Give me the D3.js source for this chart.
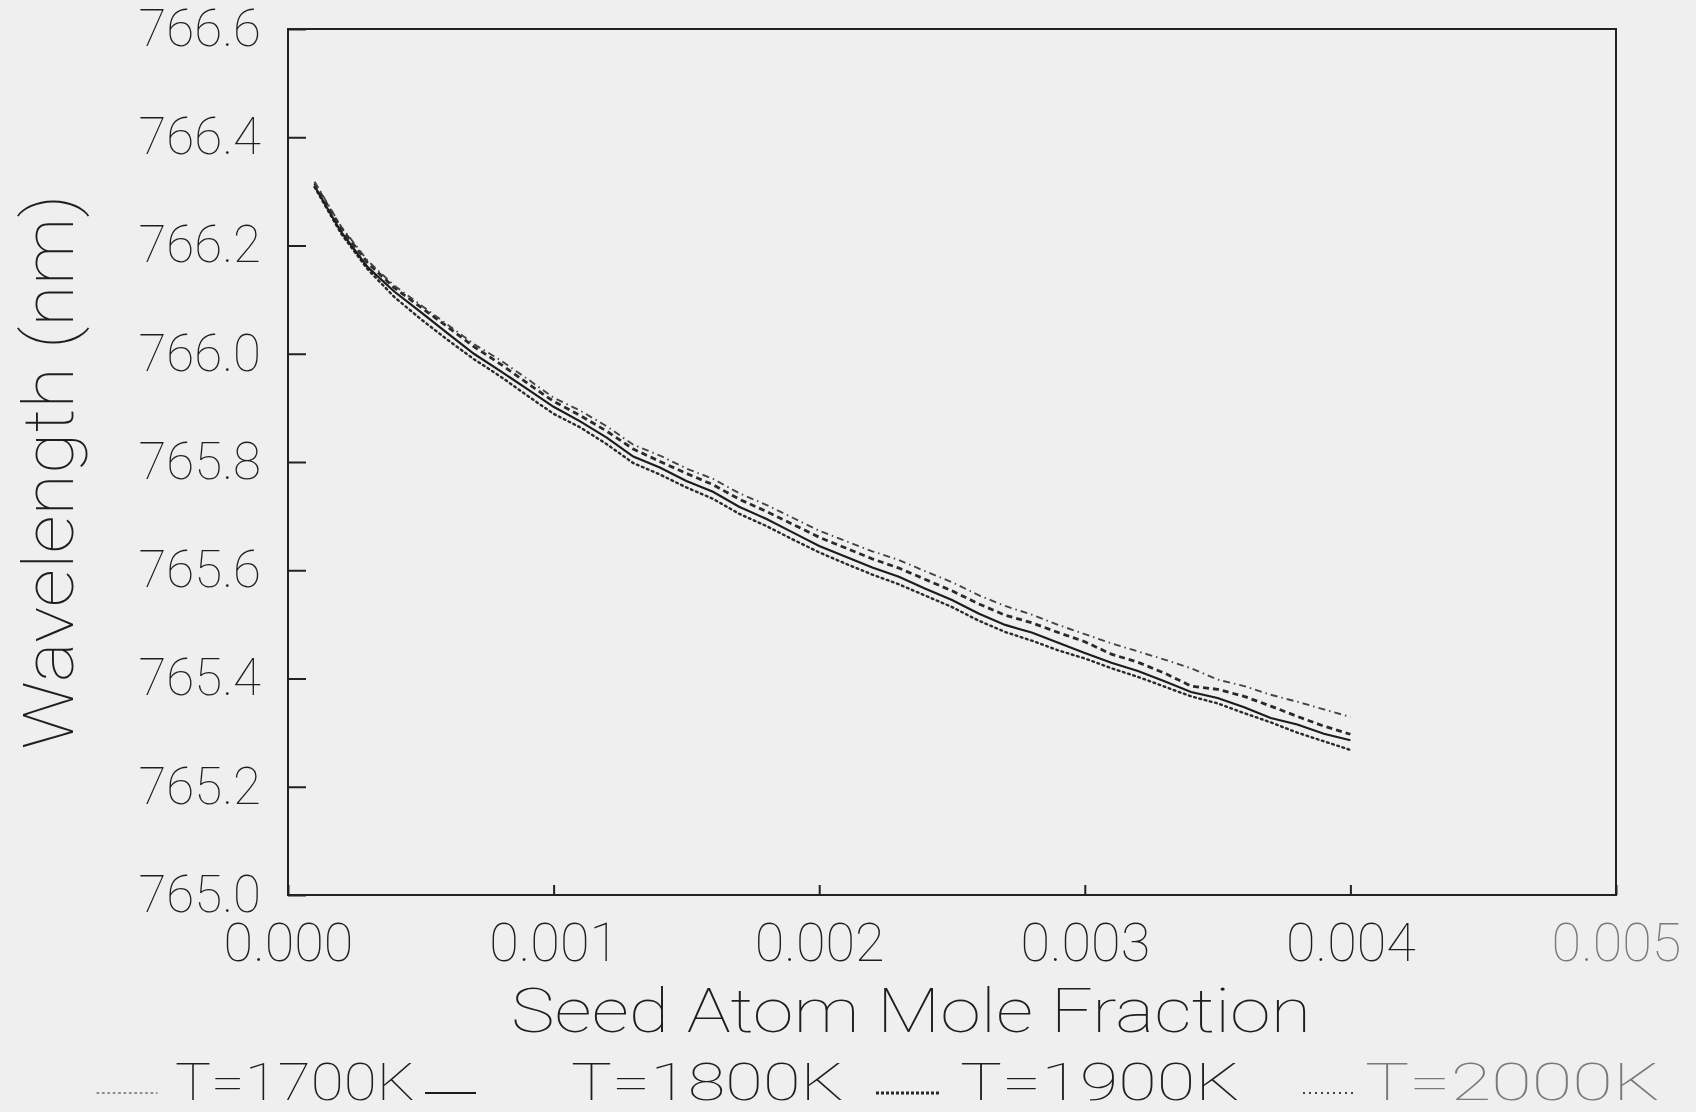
<!DOCTYPE html>
<html>
<head>
<meta charset="utf-8">
<script src="https://cdn.jsdelivr.net/npm/d3@7"></script>
<style>
    body { margin: 0; background: #efefef; }
    svg { display: block; }
    text { font-family: Roboto, Lato, "DejaVu Sans", sans-serif; font-weight: 100; fill: #1e1e1e; }
</style>
</head>
<body>
<div id="chart"></div>
<script>
// seed atom mole fraction (x)
const moleFraction = [
    0.0001, 0.0002, 0.0003, 0.0004, 0.0005, 0.0006, 0.0007, 0.0008, 0.0009, 0.0010,
    0.0011, 0.0012, 0.0013, 0.0014, 0.0015, 0.0016, 0.0017, 0.0018, 0.0019, 0.0020,
    0.0021, 0.0022, 0.0023, 0.0024, 0.0025, 0.0026, 0.0027, 0.0028, 0.0029, 0.0030,
    0.0031, 0.0032, 0.0033, 0.0034, 0.0035, 0.0036, 0.0037, 0.0038, 0.0039, 0.0040
];

// wavelength (nm)
const t1700 = [
    766.308, 766.222, 766.156, 766.105, 766.064, 766.026, 765.990, 765.958, 765.923, 765.889,
    765.864, 765.833, 765.798, 765.777, 765.753, 765.732, 765.704, 765.682, 765.657, 765.633,
    765.612, 765.592, 765.574, 765.553, 765.532, 765.507, 765.486, 765.470, 765.452, 765.437,
    765.419, 765.403, 765.385, 765.367, 765.354, 765.336, 765.319, 765.300, 765.284, 765.268
];
const t1800 = [
    766.310, 766.225, 766.160, 766.115, 766.077, 766.038, 766.000, 765.968, 765.935, 765.902,
    765.875, 765.845, 765.810, 765.790, 765.765, 765.745, 765.717, 765.695, 765.670, 765.645,
    765.625, 765.605, 765.588, 765.566, 765.545, 765.520, 765.499, 765.485, 765.466, 765.447,
    765.429, 765.414, 765.395, 765.375, 765.364, 765.347, 765.327, 765.315, 765.298, 765.286
];
const t1900 = [
    766.315, 766.232, 766.168, 766.122, 766.086, 766.050, 766.013, 765.981, 765.946, 765.912,
    765.886, 765.857, 765.824, 765.801, 765.779, 765.758, 765.731, 765.709, 765.685, 765.661,
    765.641, 765.621, 765.604, 765.583, 765.562, 765.538, 765.517, 765.503, 765.485, 765.468,
    765.445, 765.430, 765.410, 765.386, 765.380, 765.367, 765.349, 765.330, 765.312, 765.297
];
const t2000 = [
    766.318, 766.235, 766.172, 766.126, 766.090, 766.054, 766.018, 765.988, 765.954, 765.919,
    765.895, 765.866, 765.832, 765.812, 765.788, 765.769, 765.742, 765.721, 765.697, 765.673,
    765.654, 765.635, 765.619, 765.598, 765.578, 765.554, 765.534, 765.518, 765.499, 765.482,
    765.465, 765.450, 765.435, 765.419, 765.398, 765.386, 765.370, 765.357, 765.343, 765.329
];

const seriesNames = ["T=1700K", "T=1800K", "T=1900K", "T=2000K"];
const xTicks = [0.000, 0.001, 0.002, 0.003, 0.004, 0.005];
const yTicks = [765.0, 765.2, 765.4, 765.6, 765.8, 766.0, 766.2, 766.4, 766.6];

let totalWidth = 1696,
    totalHeight = 1112;
let mLeft = 288, mRight = 1616, mTop = 29, mBottom = 895;

// line looks, same order as seriesNames
let styles = [
    { dash: "1.8,3.6", width: 2.4, color: "#2a2a2a", cap: "round" },
    { dash: null, width: 2.2, color: "#1c1c1c", cap: "butt" },
    { dash: "6,4", width: 2.8, color: "#2a2a2a", cap: "butt" },
    { dash: "7,4,1.5,4", width: 1.9, color: "#444", cap: "butt" }
];

let series = [t1700, t1800, t1900, t2000].map(function(vals, i) {
    return {
        name: seriesNames[i],
        style: styles[i],
        points: vals.map(function(v, j) { return [moleFraction[j], v]; })
    };
});

let xScale = d3.scaleLinear().domain([0, 0.005]).range([mLeft, mRight]);
let yScale = d3.scaleLinear().domain([765.0, 766.6]).range([mBottom, mTop]);

let svg = d3.select("#chart").append("svg")
    .attr("width", totalWidth)
    .attr("height", totalHeight);

svg.append("rect")
    .attr("width", totalWidth)
    .attr("height", totalHeight)
    .attr("fill", "#efefef");

// y axis, ticks pointing inside
let yAxis = d3.axisLeft(yScale)
    .tickValues(yTicks)
    .tickSize(-18)
    .tickSizeOuter(0)
    .tickPadding(27)
    .tickFormat(d3.format(".1f"));

let gy = svg.append("g")
    .attr("transform", "translate(" + mLeft + ",0)")
    .call(yAxis);
gy.select(".domain").remove();
gy.selectAll(".tick line").attr("stroke", "#222").attr("stroke-width", 2);
gy.selectAll(".tick text")
    .attr("font-size", 51)
    .attr("font-family", null)
    .style("fill", "#1e1e1e");

// x axis
let xAxis = d3.axisBottom(xScale)
    .tickValues(xTicks)
    .tickSize(-10)
    .tickSizeOuter(0)
    .tickPadding(28)
    .tickFormat(d3.format(".3f"));

let gx = svg.append("g")
    .attr("transform", "translate(0," + mBottom + ")")
    .call(xAxis);
gx.select(".domain").remove();
gx.selectAll(".tick line").attr("stroke", "#222").attr("stroke-width", 2);
gx.selectAll(".tick text")
    .attr("font-size", 54)
    .attr("font-family", null)
    .style("fill", function(d) { return d === 0.005 ? "#7a7a7a" : "#1e1e1e"; });

// frame
svg.append("rect")
    .attr("x", mLeft)
    .attr("y", mTop)
    .attr("width", mRight - mLeft)
    .attr("height", mBottom - mTop)
    .attr("fill", "none")
    .attr("stroke", "#222")
    .attr("stroke-width", 2);

// curves
let line = d3.line()
    .x(function(d) { return xScale(d[0]); })
    .y(function(d) { return yScale(d[1]); });

svg.selectAll(".curve")
    .data(series)
    .enter().append("path")
    .attr("class", "curve")
    .attr("d", function(d) { return line(d.points); })
    .attr("fill", "none")
    .attr("stroke", function(d) { return d.style.color; })
    .attr("stroke-width", function(d) { return d.style.width; })
    .attr("stroke-linecap", function(d) { return d.style.cap; })
    .attr("stroke-dasharray", function(d) { return d.style.dash; });

// axis titles
svg.append("text")
    .attr("x", 911)
    .attr("y", 1032)
    .attr("text-anchor", "middle")
    .attr("font-size", 61)
    .attr("textLength", 800)
    .attr("lengthAdjust", "spacingAndGlyphs")
    .text("Seed Atom Mole Fraction");

svg.append("text")
    .attr("transform", "translate(73,472) rotate(-90)")
    .attr("text-anchor", "middle")
    .attr("font-size", 70)
    .attr("textLength", 555)
    .attr("lengthAdjust", "spacingAndGlyphs")
    .text("Wavelength (nm)");

// legend along the bottom
let legendLayout = [
    { x1: 97, x2: 157, tx: 175, tw: 240, fill: "#1e1e1e" },
    { x1: 425, x2: 476, tx: 571, tw: 273, fill: "#1e1e1e" },
    { x1: 876, x2: 941, tx: 960, tw: 280, fill: "#1e1e1e" },
    { x1: 1303, x2: 1357, tx: 1365, tw: 295, fill: "#7a7a7a" }
];

let legend = svg.selectAll(".legend")
    .data(series)
    .enter().append("g")
    .attr("class", "legend");

legend.append("line")
    .attr("x1", function(d, i) { return legendLayout[i].x1; })
    .attr("x2", function(d, i) { return legendLayout[i].x2; })
    .attr("y1", 1093)
    .attr("y2", 1093)
    .attr("stroke", function(d) { return d.style.color; })
    .attr("stroke-width", function(d, i) { return i === 0 ? 1.2 : d.style.width; })
    .attr("stroke-linecap", function(d) { return d.style.cap; })
    .attr("stroke-dasharray", function(d, i) { return i === 3 ? "2,4" : (i === 2 ? "3,2" : d.style.dash); });

legend.append("text")
    .attr("x", function(d, i) { return legendLayout[i].tx; })
    .attr("y", 1100)
    .attr("font-size", 51)
    .attr("textLength", function(d, i) { return legendLayout[i].tw; })
    .attr("lengthAdjust", "spacingAndGlyphs")
    .style("fill", function(d, i) { return legendLayout[i].fill; })
    .text(function(d) { return d.name; });
</script>
</body>
</html>
